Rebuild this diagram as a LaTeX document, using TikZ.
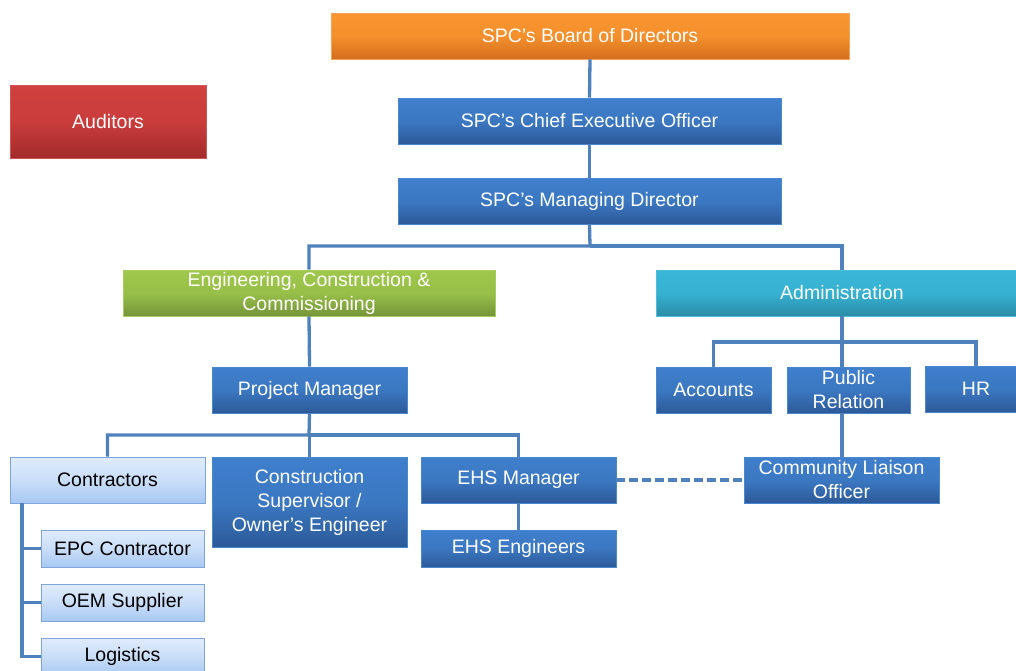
\documentclass[tikz,border=0pt]{standalone}
\usepackage{fontspec}
\setmainfont{Liberation Sans}
\usetikzlibrary{calc}
\definecolor{lineblue}{HTML}{4F81BD}
\definecolor{bTop}{HTML}{3F7FCC}
\definecolor{bBot}{HTML}{2C5A98}
\definecolor{bEdge}{HTML}{4A87CF}
\definecolor{oTop}{HTML}{FA962F}
\definecolor{oBot}{HTML}{D36E1E}
\definecolor{oEdge}{HTML}{F5A55A}
\definecolor{rTop}{HTML}{D0403F}
\definecolor{rBot}{HTML}{A32B2B}
\definecolor{rEdge}{HTML}{D35656}
\definecolor{gTop}{HTML}{9EC74B}
\definecolor{gBot}{HTML}{75943A}
\definecolor{gEdge}{HTML}{A9CB62}
\definecolor{cTop}{HTML}{39B7D8}
\definecolor{cBot}{HTML}{2A8DA8}
\definecolor{cEdge}{HTML}{50BEDA}
\definecolor{lTop}{HTML}{E0ECFC}
\definecolor{lBot}{HTML}{A8C8F2}
\definecolor{lEdge}{HTML}{7FA6DA}
\tikzset{
  box/.style={rectangle, inner sep=0pt, align=center, line width=0.8pt,
    font=\fontsize{19.5}{24}\selectfont, text=white},
  bluebox/.style={box, top color=bTop, bottom color=bBot, middle color=bTop!80!bBot, draw=bEdge},
  orangebox/.style={box, top color=oTop, bottom color=oBot, middle color=oTop!85!oBot, draw=oEdge},
  redbox/.style={box, top color=rTop, bottom color=rBot, middle color=rTop!85!rBot, draw=rEdge},
  greenbox/.style={box, top color=gTop, bottom color=gBot, middle color=gTop!85!gBot, draw=gEdge},
  cyanbox/.style={box, top color=cTop, bottom color=cBot, middle color=cTop!85!cBot, draw=cEdge},
  lightbox/.style={box, top color=lTop, bottom color=lBot, middle color=lTop!60!lBot, draw=lEdge, text=black},
  conn/.style={draw=lineblue, line width=3.3pt},
  dconn/.style={draw=lineblue, line width=3.3pt, dash pattern=on 9pt off 4pt},
  sz/.style n args={2}{minimum width=#1pt, minimum height=#2pt}
}
\begin{document}
\begin{tikzpicture}[x=1pt,y=-1pt]
\useasboundingbox (0,0) rectangle (1016,670);
\coordinate (bus1) at (590,246);
\coordinate (bus2) at (309,435);
\coordinate (bus3) at (842,342);
\coordinate (cx) at (22,503);
% nodes
\node[orangebox, sz={518}{46}] (BOD) at (590,36) {SPC’s Board of Directors};
\node[redbox, sz={196}{73}] (AUD) at (108,121.5) {Auditors};
\node[bluebox, sz={383}{46}] (CEO) at (589.5,121) {SPC’s Chief Executive Officer};
\node[bluebox, sz={383}{46}] (MD) at (589.5,201) {SPC’s Managing Director};
\node[greenbox, sz={372}{46}] (ECC) at (309,293) {Engineering, Construction \&\\Commissioning};
\node[cyanbox, sz={372}{46}] (ADM) at (842,293) {Administration};
\node[bluebox, sz={195}{46}] (PM) at (309.5,390) {Project Manager};
\node[bluebox, sz={115}{46}] (ACC) at (713.5,390) {Accounts};
\node[bluebox, sz={123}{46}] (PR) at (848.5,390) {Public\\Relation};
\node[bluebox, sz={102}{46}] (HR) at (976,389) {HR};
\node[lightbox, sz={195}{46}] (CON) at (107.5,480) {Contractors};
\node[bluebox, sz={195}{90}] (CSO) at (309.5,502) {Construction\\Supervisor /\\Owner’s Engineer};
\node[bluebox, sz={195}{46}] (EHS) at (518.5,480) {EHS Manager};
\node[bluebox, sz={195}{46}] (CLO) at (841.5,480) {Community Liaison\\Officer};
\node[bluebox, sz={195}{37}] (EHE) at (518.5,548.5) {EHS Engineers};
\node[lightbox, sz={163}{37}] (EPC) at (122.5,548.5) {EPC Contractor};
\node[lightbox, sz={163}{37}] (OEM) at (122.5,602.5) {OEM Supplier};
\node[lightbox, sz={163}{37}] (LOG) at (122.5,656.5) {Logistics};
% connectors
\draw[conn] (BOD.south) -- (CEO.north);
\draw[conn] (CEO.south) -- (MD.north);
\draw[conn] (MD.south) -- (bus1) -| (ECC.north);
\draw[conn] (bus1) -| (ADM.north);
\draw[conn] (ECC.south) -- (PM.north);
\draw[conn] (PM.south) -- (bus2) -| (CON.north);
\draw[conn] (bus2) -| (CSO.north);
\draw[conn] (bus2) -| (EHS.north);
\draw[conn] (ADM.south) -- (bus3) -| (ACC.north);
\draw[conn] (bus3) -| (HR.north);
\draw[conn] (bus3) -- (PR.north -| bus3);
\draw[conn] (PR.south -| bus3) -- (CLO.north -| bus3);
\draw[conn] (EHS.south) -- (EHE.north);
\draw[dconn] (EHS.east) -- (CLO.west);
\draw[conn] (cx) |- (EPC.west);
\draw[conn] (cx) |- (OEM.west);
\draw[conn] (cx) |- (LOG.west);
\end{tikzpicture}
\end{document}
